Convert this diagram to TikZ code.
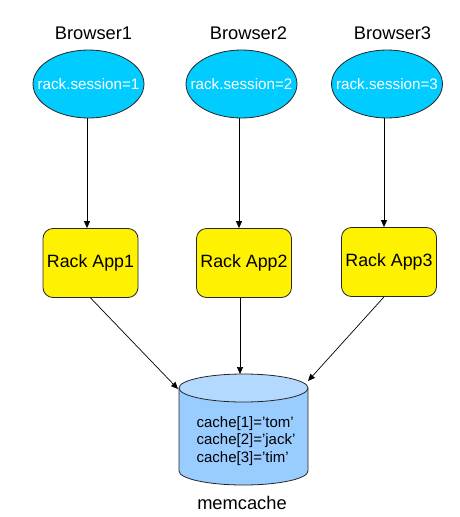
\documentclass[tikz,border=0pt]{standalone}
\usepackage{fontspec}
\setmainfont{Liberation Sans}
\usetikzlibrary{arrows.meta,shapes.geometric}
\definecolor{skyc}{RGB}{0,204,255}
\definecolor{cylbody}{RGB}{153,204,255}
\definecolor{cyltop}{RGB}{179,217,255}
\newcommand{\zw}[1]{\makebox[0pt]{#1}}
\begin{document}
\begin{tikzpicture}[x=1pt,y=-1pt,
  browser/.style={ellipse, draw=black!85, line width=0.8pt, fill=skyc, minimum width=111pt, minimum height=68pt, inner sep=0pt, font=\fontsize{15.2}{16}\selectfont, text=white},
  app/.style={rectangle, rounded corners=10pt, draw=black!85, line width=0.8pt, fill=yellow, minimum width=95pt, minimum height=69pt, inner sep=0pt, font=\fontsize{17.8}{20}\selectfont},
  title/.style={font=\fontsize{18.3}{20}\selectfont, inner sep=0pt},
  arr/.style={-{Triangle[length=7pt,width=6pt]}, line width=0.7pt}]
\useasboundingbox (0,0) rectangle (460,517);

% titles
\node[title] (l1) at (93.5,33) {Browser1};
\node[title] (l2) at (248.5,33) {Browser2};
\node[title] (l3) at (392.5,33) {Browser3};

% browsers
\node[browser] (b1) at (88.5,84) {\zw{rack.session=1}};
\node[browser] (b2) at (241.5,84) {\zw{rack.session=2}};
\node[browser] (b3) at (387,84) {\zw{rack.session=3}};

% apps
\node[app] (a1) at (90.5,263) {Rack App1};
\node[app] (a2) at (244,263) {Rack App2};
\node[app, text depth=4pt] (a3) at (389,262) {Rack App3};

% cylinder
\fill[cylbody] (179,388) -- (179,471) arc[start angle=180,end angle=0,x radius=64.5,y radius=14] -- (308,388) arc[start angle=0,end angle=180,x radius=64.5,y radius=14] -- cycle;
\draw[black!85, line width=0.8pt] (179,388) -- (179,471) arc[start angle=180,end angle=0,x radius=64.5,y radius=14] -- (308,388);
\draw[black!85, line width=0.8pt, fill=cyltop] (243.5,388) ellipse[x radius=64.5, y radius=14];
\node[align=left, inner sep=0pt, font=\fontsize{15}{17.5}\selectfont] (mctext) at (246,441) {cache[1]='tom'\\cache[2]='jack'\\cache[3]='tim'};
\node[title] (mclabel) at (242,503) {memcache};

\coordinate (t1) at (178,389);
\coordinate (t2) at (240,374);
\coordinate (t3) at (308,381);

% connectors
\draw[arr] (b1.south -| 87,0) -- (a1.north -| 87,0);
\draw[arr] (b2.south -| 239,0) -- (a2.north -| 239,0);
\draw[arr] (b3.south -| 384,0) -- (a3.north -| 384,0);
\draw[arr] (a1.south) -- (t1);
\draw[arr] (a2.south -| t2) -- (t2);
\draw[arr] (a3.south -| 384,0) -- (t3);
\end{tikzpicture}
\end{document}
